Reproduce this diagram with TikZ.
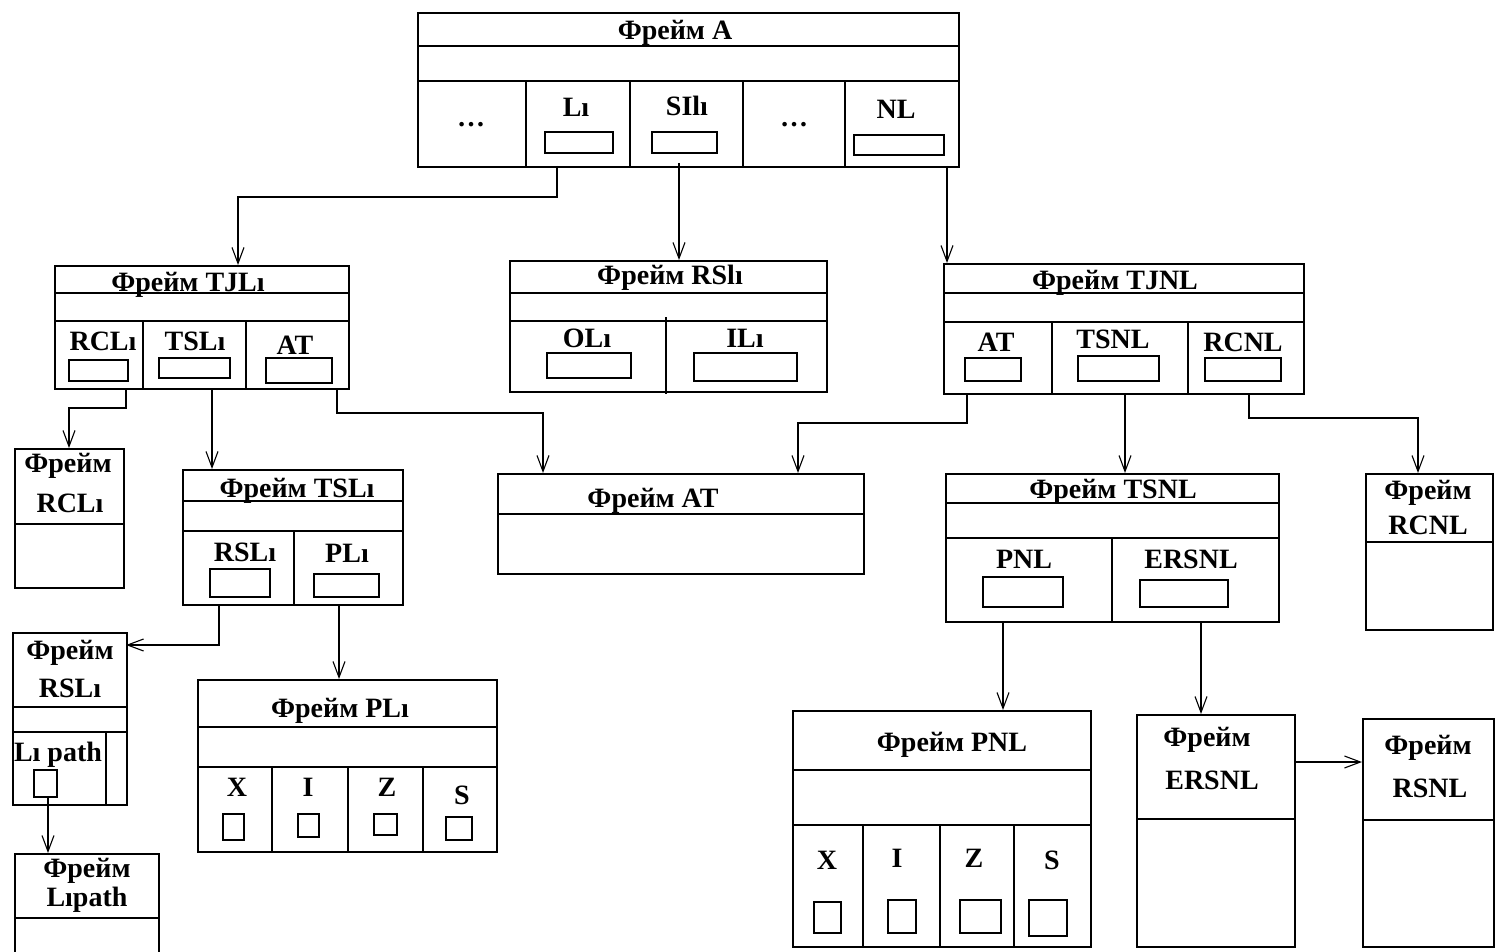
\documentclass[tikz,border=0pt]{standalone}
\usepackage{fontspec}
\setmainfont{Liberation Serif}
\usetikzlibrary{arrows.meta}

\begin{document}
\begin{tikzpicture}[
    x=1pt, y=-1pt,
    font=\fontsize{28}{30}\selectfont\bfseries,
    frm/.style={draw, line width=1.9pt, anchor=north west, inner sep=0pt},
    ln/.style={line width=1.9pt},
    slot/.style={draw, line width=1.6pt},
    lbl/.style={inner sep=0pt, anchor=base},
    conn/.style={-{Straight Barb[length=16pt, width=12pt, line width=1.1pt]}, line width=1.8pt},
  ]
  \useasboundingbox (0,0) rectangle (1495,952);

  % frame A
  \node[frm, minimum width=541pt, minimum height=154pt] (fA) at (417,12) {};
  \draw[ln] (417,46) -- (958,46) (417,81) -- (958,81);
  \foreach \x in {526,630,743,845} \draw[ln] (\x,81) -- (\x,166);
  \node[lbl] (tA) at (675,40) {Фрейм A};
  \node[lbl] (aD1) at (471,127) {…};
  \node[lbl] (aL) at (576,117) {Lı};
  \node[lbl] (aS) at (687,116) {SIlı};
  \node[lbl] (aD2) at (794,127) {…};
  \node[lbl] (aN) at (896,119) {NL};
  \draw[slot] (545,132) rectangle (613,153) (652,132) rectangle (717,153) (854,135) rectangle (944,155);

  % frame TJL1
  \node[frm, minimum width=294pt, minimum height=123pt] (fTJL) at (54,265) {};
  \draw[ln] (54,293) -- (348,293) (54,321) -- (348,321);
  \foreach \x in {143,246} \draw[ln] (\x,321) -- (\x,388);
  \node[lbl] (tTJL) at (188,291) {Фрейм TJLı};
  \node[lbl] (jR) at (103,350) {RCLı};
  \node[lbl] (jT) at (195,350) {TSLı};
  \node[lbl] (jA) at (295,354) {AT};
  \draw[slot] (69,360) rectangle (128,381) (159,358) rectangle (230,378) (266,358) rectangle (332,383);

  % frame RSl1
  \node[frm, minimum width=317pt, minimum height=131pt] (fRSl) at (509,260) {};
  \draw[ln] (509,293) -- (826,293) (509,321) -- (826,321) (666,317) -- (666,394);
  \node[lbl] (tRSl) at (670,284) {Фрейм RSlı};
  \node[lbl] (sO) at (587,347) {OLı};
  \node[lbl] (sI) at (745,347) {ILı};
  \draw[slot] (547,353) rectangle (631,378) (694,353) rectangle (797,381);

  % frame TJNL
  \node[frm, minimum width=360pt, minimum height=130pt] (fTJN) at (943,263) {};
  \draw[ln] (943,293) -- (1303,293) (943,322) -- (1303,322);
  \foreach \x in {1052,1188} \draw[ln] (\x,322) -- (\x,393);
  \node[lbl] (tTJN) at (1115,289) {Фрейм TJNL};
  \node[lbl] (nA) at (996,351) {AT};
  \node[lbl] (nT) at (1113,348) {TSNL};
  \node[lbl] (nR) at (1243,351) {RCNL};
  \draw[slot] (965,358) rectangle (1021,381) (1078,356) rectangle (1159,381) (1205,358) rectangle (1281,381);

  % frame RCL1
  \node[frm, minimum width=109pt, minimum height=139pt] (fRCL) at (14,448) {};
  \draw[ln] (14,524) -- (123,524);
  \node[lbl] (tRCL) at (68,472) {Фрейм};
  \node[lbl] (tRCLb) at (70,512) {RCLı};

  % frame TSL1
  \node[frm, minimum width=220pt, minimum height=135pt] (fTSL) at (182,469) {};
  \draw[ln] (182,501) -- (402,501) (182,531) -- (402,531) (294,531) -- (294,604);
  \node[lbl] (tTSL) at (297,497) {Фрейм TSLı};
  \node[lbl] (lR) at (245,561) {RSLı};
  \node[lbl] (lP) at (347,562) {PLı};
  \draw[slot] (210,569) rectangle (270,597) (314,574) rectangle (379,597);

  % frame AT
  \node[frm, minimum width=366pt, minimum height=100pt] (fAT) at (497,473) {};
  \draw[ln] (497,514) -- (863,514);
  \node[lbl] (tAT) at (653,507) {Фрейм AT};

  % frame TSNL
  \node[frm, minimum width=333pt, minimum height=148pt] (fTSN) at (945,473) {};
  \draw[ln] (945,503) -- (1278,503) (945,538) -- (1278,538) (1112,538) -- (1112,621);
  \node[lbl] (tTSN) at (1113,498) {Фрейм TSNL};
  \node[lbl] (pP) at (1024,568) {PNL};
  \node[lbl] (pE) at (1191,568) {ERSNL};
  \draw[slot] (983,577) rectangle (1063,607) (1140,580) rectangle (1228,607);

  % frame RCNL
  \node[frm, minimum width=127pt, minimum height=156pt] (fRCN) at (1365,473) {};
  \draw[ln] (1365,542) -- (1492,542);
  \node[lbl] (tRCN) at (1428,499) {Фрейм};
  \node[lbl] (tRCNb) at (1428,534) {RCNL};

  % frame RSL1
  \node[frm, minimum width=114pt, minimum height=172pt] (fRSL) at (12,632) {};
  \draw[ln] (12,707) -- (126,707) (12,732) -- (126,732) (106,732) -- (106,804);
  \node[lbl] (tRSL) at (70,659) {Фрейм};
  \node[lbl] (tRSLb) at (70,697) {RSLı};
  \node[lbl] (rP) at (58,761) {Lı path};
  \draw[slot] (34,770) rectangle (57,797);

  % frame PL1
  \node[frm, minimum width=299pt, minimum height=172pt] (fPL) at (197,679) {};
  \draw[ln] (197,727) -- (496,727) (197,767) -- (496,767);
  \foreach \x in {272,348,423} \draw[ln] (\x,767) -- (\x,851);
  \node[lbl] (tPL) at (340,717) {Фрейм PLı};
  \foreach \x/\t/\y in {237/X/796, 308/I/796, 387/Z/796, 462/S/804}
    \node[lbl] (pl\t) at (\x,\y) {\t};
  \draw[slot] (223,814) rectangle (244,840) (298,814) rectangle (319,837) (374,814) rectangle (397,835) (446,817) rectangle (472,840);

  % frame L1path
  \node[frm, minimum width=144pt, minimum height=110pt] (fLp) at (14,853) {};
  \draw[ln] (14,918) -- (158,918);
  \node[lbl] (tLp) at (87,877) {Фрейм};
  \node[lbl] (tLpb) at (87,906) {Lıpath};

  % frame PNL
  \node[frm, minimum width=298pt, minimum height=236pt] (fPN) at (792,710) {};
  \draw[ln] (792,770) -- (1090,770) (792,825) -- (1090,825);
  \foreach \x in {863,940,1014} \draw[ln] (\x,825) -- (\x,946);
  \node[lbl] (tPN) at (952,751) {Фрейм PNL};
  \foreach \x/\t/\y in {827/X/869, 897/I/867, 974/Z/867, 1052/S/869}
    \node[lbl] (pn\t) at (\x,\y) {\t};
  \draw[slot] (814,902) rectangle (841,933) (888,900) rectangle (916,933) (960,900) rectangle (1001,933) (1029,900) rectangle (1067,936);

  % frame ERSNL
  \node[frm, minimum width=158pt, minimum height=232pt] (fER) at (1136,714) {};
  \draw[ln] (1136,819) -- (1294,819);
  \node[lbl] (tER) at (1207,746) {Фрейм};
  \node[lbl] (tERb) at (1212,789) {ERSNL};

  % frame RSNL
  \node[frm, minimum width=131pt, minimum height=228pt] (fRS) at (1362,718) {};
  \draw[ln] (1362,820) -- (1493,820);
  \node[lbl] (tRS) at (1428,754) {Фрейм};
  \node[lbl] (tRSb) at (1430,797) {RSNL};

  % connector ends
  \coordinate (oAL) at (557,166);  \coordinate (iTJL) at (238,265);
  \coordinate (oAS) at (679,163);  \coordinate (iRSl) at (679,260);
  \coordinate (oAN) at (947,166);  \coordinate (iTJN) at (947,263);
  \coordinate (oJR) at (126,388);  \coordinate (iRCL) at (69,448);
  \coordinate (oJT) at (212,388);  \coordinate (iTSL) at (212,469);
  \coordinate (oJA) at (337,388);  \coordinate (iATl) at (543,473);
  \coordinate (oNA) at (967,393);  \coordinate (iATr) at (798,473);
  \coordinate (oNT) at (1125,393); \coordinate (iTSN) at (1125,473);
  \coordinate (oNR) at (1249,393); \coordinate (iRCN) at (1418,473);
  \coordinate (oLR) at (219,604);  \coordinate (iRSL) at (126,645);
  \coordinate (oLP) at (339,604);  \coordinate (iPL) at (339,679);
  \coordinate (oRP) at (48,797);   \coordinate (iLp) at (48,853);
  \coordinate (oPP) at (1003,621); \coordinate (iPN) at (1003,710);
  \coordinate (oPE) at (1201,621); \coordinate (iER) at (1201,714);
  \coordinate (oER) at (1294,762); \coordinate (iRS) at (1362,762);

  % connectors
  \draw[conn] (oAL) -- ++(0,31) -| (iTJL);
  \draw[conn] (oAS) -- (iRSl);
  \draw[conn] (oAN) -- (iTJN);
  \draw[conn] (oJR) -- ++(0,20) -| (iRCL);
  \draw[conn] (oJT) -- (iTSL);
  \draw[conn] (oJA) -- ++(0,25) -| (iATl);
  \draw[conn] (oNA) -- ++(0,30) -| (iATr);
  \draw[conn] (oNT) -- (iTSN);
  \draw[conn] (oNR) -- ++(0,25) -| (iRCN);
  \draw[conn] (oLR) |- (iRSL);
  \draw[conn] (oLP) -- (iPL);
  \draw[conn] (oRP) -- (iLp);
  \draw[conn] (oPP) -- (iPN);
  \draw[conn] (oPE) -- (iER);
  \draw[conn] (oER) -- (iRS);
\end{tikzpicture}
\end{document}
